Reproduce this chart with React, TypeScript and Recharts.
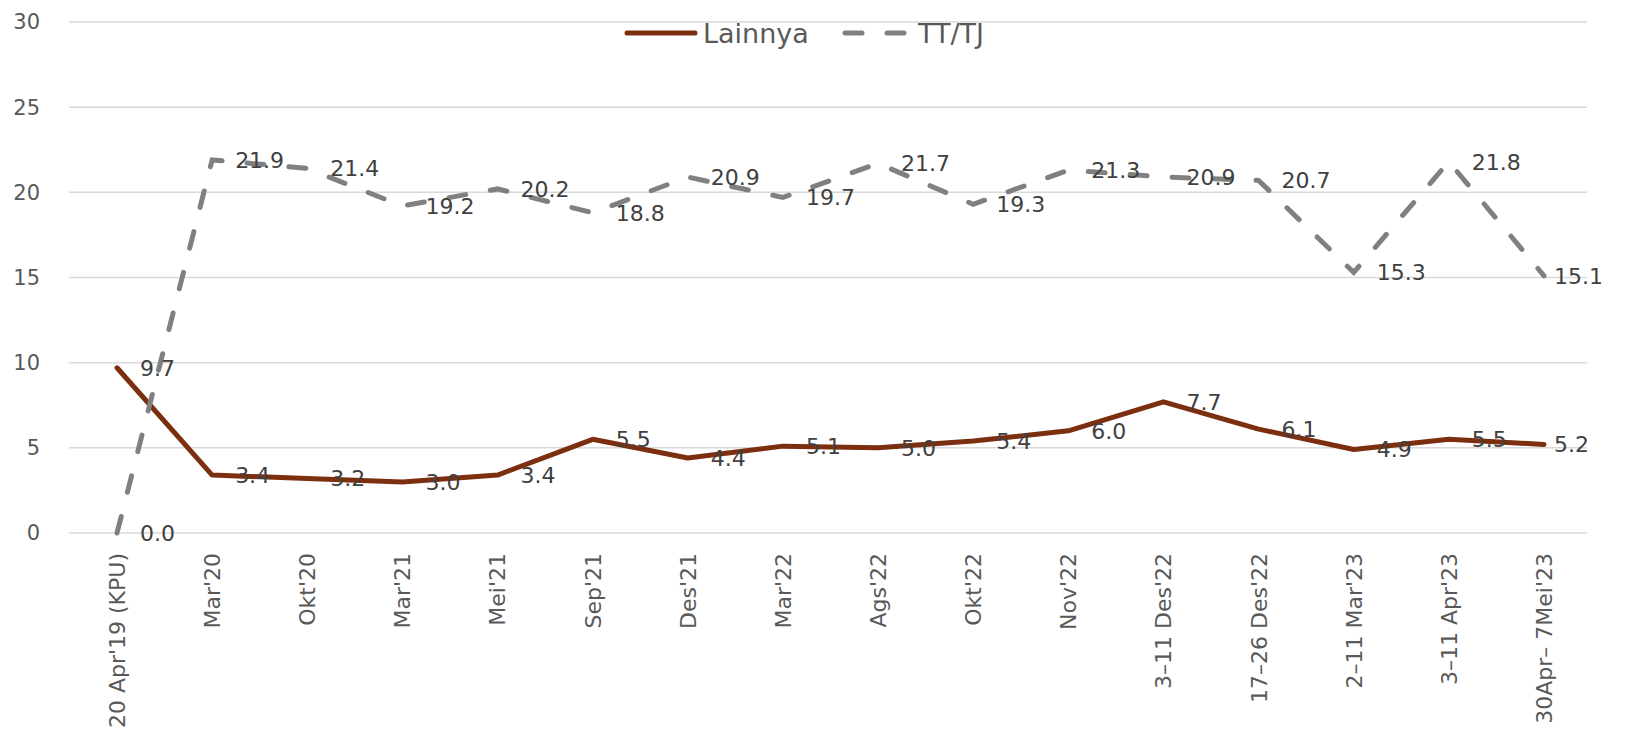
import React from "react";
import { LineChart, Line, XAxis, YAxis, CartesianGrid, LabelList } from "recharts";

const categories = [
  "20 Apr'19 (KPU)", "Mar'20", "Okt'20", "Mar'21", "Mei'21", "Sep'21", "Des'21", "Mar'22",
  "Ags'22", "Okt'22", "Nov'22", "3–11  Des'22", "17–26 Des'22", "2–11 Mar'23", "3–11  Apr'23", "30Apr– 7Mei'23",
];
const lainnya = [9.7, 3.4, 3.2, 3.0, 3.4, 5.5, 4.4, 5.1, 5.0, 5.4, 6.0, 7.7, 6.1, 4.9, 5.5, 5.2];
const tttj = [0.0, 21.9, 21.4, 19.2, 20.2, 18.8, 20.9, 19.7, 21.7, 19.3, 21.3, 20.9, 20.7, 15.3, 21.8, 15.1];
const yTicks = [0, 5, 10, 15, 20, 25, 30];
const seriesNames = ["Lainnya", "TT/TJ"];

const data = categories.map((c, i) => ({ cat: c, Lainnya: lainnya[i], TTTJ: tttj[i] }));

const FONT = "'DejaVu Sans', Verdana, sans-serif";
const BROWN = "#7B2F0F";
const GRAY = "#808080";

const XTick = (props: any) => {
  const { x, y, payload } = props;
  const yy = y + 12;
  return (
    <text
      x={x}
      y={yy}
      transform={`rotate(-90, ${x}, ${yy})`}
      textAnchor="end"
      dy="0.36em"
      fill="#595959"
      fontSize={22}
      fontFamily={FONT}
    >
      {payload.value}
    </text>
  );
};

const ValueLabel = (props: any) => {
  const { x, y, value, index } = props;
  const off = index === categories.length - 1 ? 10 : 23;
  return (
    <text x={x + off} y={y} dy="0.36em" textAnchor="start" fill="#404040" fontSize={22} fontFamily={FONT}>
      {Number(value).toFixed(1)}
    </text>
  );
};

export default function App() {
  return (
    <div style={{ position: "relative", width: 1610, height: 719 }}>
      <LineChart width={1610} height={719} data={data} margin={{ top: 14, right: 31, bottom: 0, left: 0 }}>
        <CartesianGrid vertical={false} stroke="#d9d9d9" strokeWidth={1.5} />
        <XAxis
          dataKey="cat"
          axisLine={false}
          tickLine={false}
          interval={0}
          height={194}
          padding={{ left: 48, right: 43 }}
          tick={<XTick />}
        />
        <YAxis
          domain={[0, 30]}
          ticks={yTicks}
          width={61}
          axisLine={false}
          tickLine={false}
          tickSize={0}
          tickMargin={29}
          tick={{ fill: "#595959", fontSize: 21, fontFamily: FONT }}
        />
        <Line
          type="linear"
          dataKey="Lainnya"
          stroke={BROWN}
          strokeWidth={5}
          strokeLinejoin="round"
          strokeLinecap="round"
          dot={false}
          isAnimationActive={false}
        >
          <LabelList dataKey="Lainnya" content={<ValueLabel />} />
        </Line>
        <Line
          type="linear"
          dataKey="TTTJ"
          name="TT/TJ"
          stroke={GRAY}
          strokeWidth={5}
          strokeDasharray="17 25"
          strokeLinecap="round"
          dot={false}
          isAnimationActive={false}
        >
          <LabelList dataKey="TTTJ" content={<ValueLabel />} />
        </Line>
      </LineChart>
      <svg
        width={1610}
        height={60}
        style={{ position: "absolute", left: 0, top: 0, pointerEvents: "none" }}
      >
        <line x1={619} y1={25} x2={687} y2={25} stroke={BROWN} strokeWidth={5} strokeLinecap="round" />
        <text x={695} y={25} dy="0.36em" fill="#595959" fontSize={27} fontFamily={FONT}>
          {seriesNames[0]}
        </text>
        <line x1={837} y1={25} x2={897} y2={25} stroke={GRAY} strokeWidth={5} strokeLinecap="round" strokeDasharray="17 25" />
        <text x={910} y={25} dy="0.36em" fill="#595959" fontSize={27} fontFamily={FONT}>
          {seriesNames[1]}
        </text>
      </svg>
    </div>
  );
}
